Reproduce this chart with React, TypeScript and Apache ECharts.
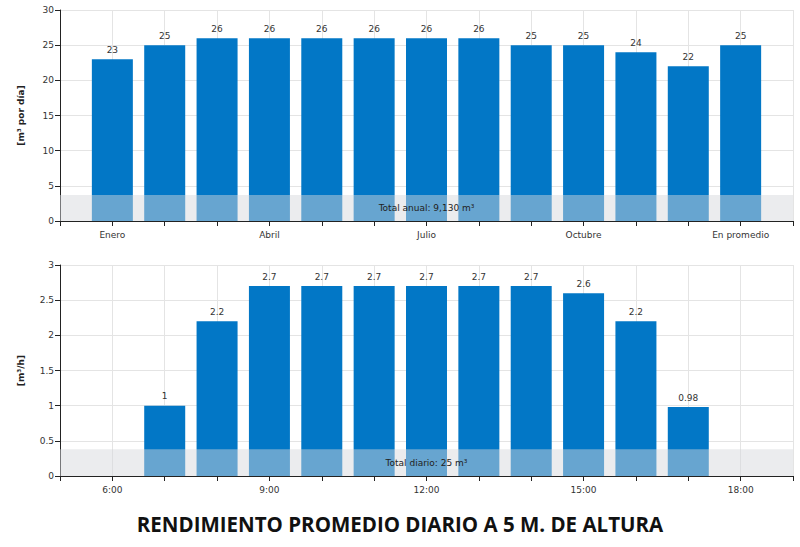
import { useEffect, useRef } from 'react';
import * as echarts from 'echarts';

// meses (el último es el promedio anual)
const months = [
  'Enero', 'Febrero', 'Marzo', 'Abril', 'Mayo', 'Junio',
  'Julio', 'Agosto', 'Septiembre', 'Octubre', 'Noviembre', 'Diciembre', 'En promedio',
];
const monthValues = [23, 25, 26, 26, 26, 26, 26, 26, 25, 25, 24, 22, 25];
const shownMonths = ['Enero', 'Abril', 'Julio', 'Octubre', 'En promedio'];

// horas del día
const hours = [7, 8, 9, 10, 11, 12, 13, 14, 15, 16, 17];
const hourValues = [1, 2.2, 2.7, 2.7, 2.7, 2.7, 2.7, 2.7, 2.6, 2.2, 0.98];
const shownHours = [6, 9, 12, 15, 18];

const topBand = 3.7;
const bottomBand = 0.38;
const topBandLabel = 'Total anual: 9,130 m³';
const bottomBandLabel = 'Total diario: 25 m³';
const title = 'RENDIMIENTO PROMEDIO DIARIO A 5 M. DE ALTURA';

const FONT = 'DejaVu Sans';
const BLUE = '#0277c6';
const GRID_COLOR = '#e4e4e4';

const xAxisBase = (gridIndex: number, min: number, max: number, formatter: (v: number) => string) => ({
  type: 'value',
  gridIndex,
  min,
  max,
  interval: 1,
  axisLine: { lineStyle: { color: '#222' } },
  axisTick: { show: true, length: 5, lineStyle: { color: '#222' } },
  axisLabel: { fontSize: 9, color: '#333', fontFamily: FONT, margin: 9, formatter },
  splitLine: { show: true, lineStyle: { color: GRID_COLOR } },
});

const yAxisBase = (gridIndex: number, max: number, interval: number, name: string) => ({
  type: 'value',
  gridIndex,
  min: 0,
  max,
  interval,
  name,
  nameLocation: 'middle',
  nameGap: 35,
  nameTextStyle: { fontSize: 9, fontWeight: 'bold', color: '#222', fontFamily: FONT },
  axisLine: { show: true, lineStyle: { color: '#222' } },
  axisTick: { show: true, length: 5, lineStyle: { color: '#222' } },
  axisLabel: { fontSize: 9, color: '#333', fontFamily: FONT, margin: 6 },
  splitLine: { show: true, lineStyle: { color: GRID_COLOR } },
});

const barSeries = (idx: number, data: number[][], band: number, bandLabel: string) => ({
  type: 'bar',
  xAxisIndex: idx,
  yAxisIndex: idx,
  data,
  barWidth: 41,
  itemStyle: { color: BLUE },
  label: {
    show: true,
    position: 'top',
    distance: 5,
    fontSize: 9,
    color: '#333',
    fontFamily: FONT,
  },
  // franja gris semitransparente sobre la base de las barras
  markArea: {
    silent: true,
    z: 5,
    itemStyle: { color: 'rgba(214,216,220,0.48)' },
    label: {
      show: true,
      position: 'inside',
      fontSize: 9,
      color: '#222',
      fontFamily: FONT,
    },
    data: [[{ yAxis: 0, name: bandLabel }, { yAxis: band }]],
  },
});

const App = () => {
  const chartRef = useRef<HTMLDivElement>(null);

  useEffect(() => {
    if (!chartRef.current) return;
    const chart = echarts.init(chartRef.current, null, { renderer: 'svg' });

    const option = {
      animation: false,
      backgroundColor: '#fff',
      grid: [
        { left: 60, right: 7, top: 10, height: 211 },
        { left: 60, right: 7, top: 265, height: 211 },
      ],
      xAxis: [
        xAxisBase(0, 0, 14, (v: number) => {
          const m = months[v - 1];
          return m && shownMonths.includes(m) ? m : '';
        }),
        xAxisBase(1, 5, 19, (v: number) => (shownHours.includes(v) ? `${v}:00` : '')),
      ],
      yAxis: [
        yAxisBase(0, 30, 5, '[m³ por día]'),
        yAxisBase(1, 3, 0.5, '[m³/h]'),
      ],
      series: [
        barSeries(0, monthValues.map((v, i) => [i + 1, v]), topBand, topBandLabel),
        barSeries(1, hourValues.map((v, i) => [hours[i], v]), bottomBand, bottomBandLabel),
      ],
      graphic: [
        {
          type: 'text',
          left: 'center',
          top: 513,
          style: {
            text: title,
            fontSize: 20.5,
            fontWeight: 'bold',
            fontFamily: 'Open Sans',
            fill: '#111',
          },
        },
      ],
    };

    chart.setOption(option);

    return () => {
      chart.dispose();
    };
  }, []);

  return (
    <div
      ref={chartRef}
      style={{ position: 'fixed', left: 0, top: 0, width: '800px', height: '547px' }}
    />
  );
};

export default App;
